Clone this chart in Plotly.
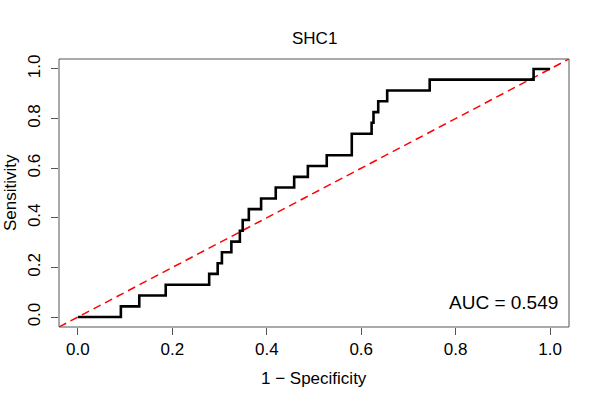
import plotly.graph_objects as go

# ROC curve vertices (1 - specificity, sensitivity)
fpr = [0.0, 0.091, 0.091, 0.13, 0.13, 0.186, 0.186, 0.278, 0.278, 0.296, 0.296,
       0.305, 0.305, 0.325, 0.325, 0.343, 0.343, 0.349, 0.349, 0.362, 0.362,
       0.388, 0.388, 0.419, 0.419, 0.458, 0.458, 0.487, 0.487, 0.527, 0.527,
       0.58, 0.58, 0.622, 0.622, 0.626, 0.626, 0.636, 0.636, 0.655, 0.655,
       0.745, 0.745, 0.965, 0.965, 1.0]
tpr = [0.0, 0.0, 0.043, 0.043, 0.087, 0.087, 0.13, 0.13, 0.174, 0.174, 0.217,
       0.217, 0.261, 0.261, 0.304, 0.304, 0.348, 0.348, 0.391, 0.391, 0.435,
       0.435, 0.478, 0.478, 0.522, 0.522, 0.565, 0.565, 0.609, 0.609, 0.652,
       0.652, 0.739, 0.739, 0.783, 0.783, 0.826, 0.826, 0.870, 0.870, 0.913,
       0.913, 0.957, 0.957, 1.0, 1.0]

title_text = "SHC1"
x_label = "1 \u2212 Specificity"
y_label = "Sensitivity"
auc_value = 0.549
tick_vals = [0.0, 0.2, 0.4, 0.6, 0.8, 1.0]
axis_range = [-0.04, 1.04]

FONT = "Liberation Sans, Arial, sans-serif"

fig = go.Figure()

# diagonal reference line (abline 0,1) across the full axis range
fig.add_trace(go.Scatter(
    x=axis_range, y=axis_range, mode="lines",
    line=dict(color="#ff0000", width=1.5, dash="8px,5px"),
    hoverinfo="skip", showlegend=False,
))

fig.add_trace(go.Scatter(
    x=fpr, y=tpr, mode="lines",
    line=dict(color="black", width=2.6),
    showlegend=False,
))

axis_common = dict(
    range=axis_range, tickvals=tick_vals, tickformat=".1f",
    showgrid=False, zeroline=False, automargin=False,
    ticks="outside", ticklen=7, tickwidth=1, tickcolor="#555555",
    showline=False,
    tickfont=dict(family=FONT, size=17, color="black"),
)

fig.update_xaxes(**axis_common)
fig.update_yaxes(**axis_common, tickangle=-90, ticklabelstandoff=4)

fig.update_layout(
    width=600, height=400,
    margin=dict(l=59, r=31, t=59, b=73),
    paper_bgcolor="white", plot_bgcolor="white",
    font=dict(family=FONT, size=17, color="black"),
    shapes=[dict(type="rect", xref="paper", yref="paper", x0=0, y0=0, x1=1, y1=1,
                 line=dict(color="#555555", width=1), fillcolor="rgba(0,0,0,0)")],
    annotations=[
        dict(text=title_text, xref="paper", yref="paper", x=0.5, y=1,
             yshift=21, showarrow=False, font=dict(family=FONT, size=17),
             xanchor="center", yanchor="middle"),
        dict(text=x_label, xref="paper", yref="paper", x=0.5, y=0,
             yshift=-51, showarrow=False, xanchor="center", yanchor="middle"),
        dict(text=y_label, xref="paper", yref="paper", x=0, y=0.5,
             xshift=-49, textangle=-90, showarrow=False,
             xanchor="center", yanchor="middle"),
        dict(text=f"AUC = {auc_value:.3f}", xref="x", yref="y",
             x=1.021, y=0.057, showarrow=False, xanchor="right",
             yanchor="middle", font=dict(family=FONT, size=19)),
    ],
)

fig.write_html(
    "out.html",
    config={"displayModeBar": False},
    post_script="document.body.style.margin='0';document.body.style.overflow='hidden';",
)
